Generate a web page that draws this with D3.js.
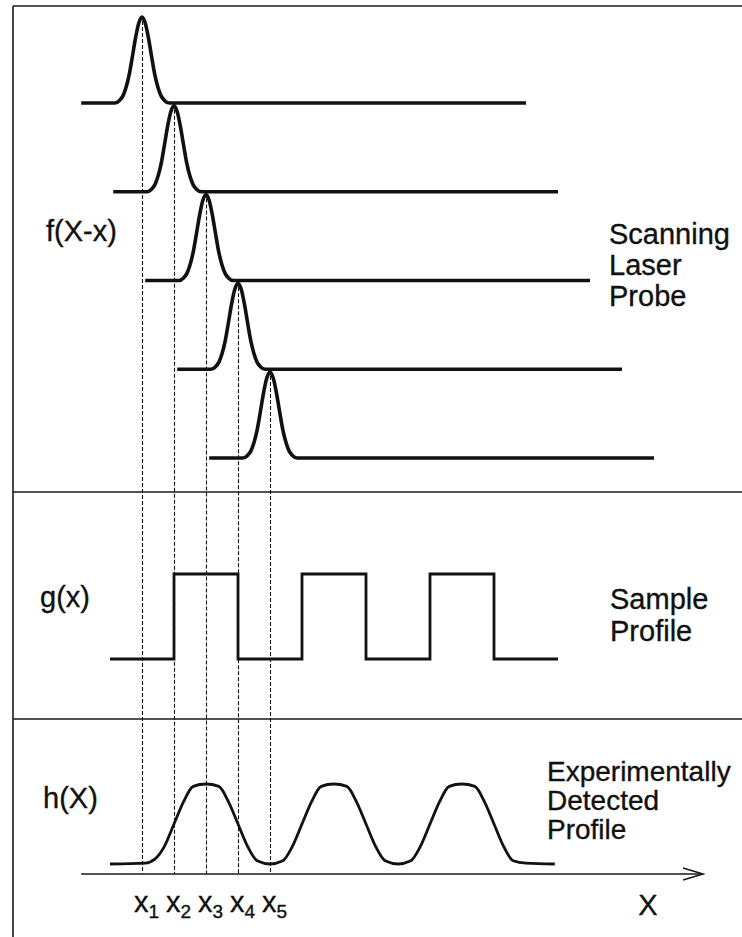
<!DOCTYPE html>
<html>
<head>
<meta charset="utf-8">
<script src="https://cdn.jsdelivr.net/npm/d3@7"></script>
<style>
  html, body { margin: 0; padding: 0; background: #fff; }
  text { font-family: "Liberation Sans", Arial, sans-serif; fill: #111; stroke: #111; stroke-width: 0.35px; }
</style>
</head>
<body>
<div id="chartCtn"></div>
<script>
// scan positions x1..x5 (in sample units)
const probePositions = [1, 2, 3, 4, 5];
const probeLabels = ["1", "2", "3", "4", "5"];
// shape of the laser probe around its centre: [offset, relative height]
const probeShape = [
  [-1.9, 0], [-0.85, 0], [-0.7, 0.03], [-0.6, 0.08], [-0.5, 0.18], [-0.4, 0.33],
  [-0.3, 0.54], [-0.2, 0.76], [-0.1, 0.93], [0, 1], [0.1, 0.93], [0.2, 0.76],
  [0.3, 0.54], [0.4, 0.33], [0.5, 0.18], [0.6, 0.08], [0.7, 0.03], [0.85, 0], [12, 0]
];
// sample profile g(x): [x, level] steps
const sampleSteps = [[0, 0], [2, 1], [4, 0], [6, 1], [8, 0], [10, 1], [12, 0], [14, 0]];
// detected profile h(X): [X, level]
const detected = [
  [0, 0], [1.1, 0.01], [1.4, 0.06], [1.7, 0.22], [2, 0.5], [2.3, 0.78], [2.6, 0.97], [3, 1],
  [3.4, 0.97], [3.7, 0.78], [4, 0.5], [4.3, 0.22], [4.6, 0.04], [5, 0], [5.4, 0.04],
  [5.7, 0.22], [6, 0.5], [6.3, 0.78], [6.6, 0.97], [7, 1], [7.4, 0.97], [7.7, 0.78],
  [8, 0.5], [8.3, 0.22], [8.6, 0.04], [9, 0], [9.4, 0.04], [9.7, 0.22], [10, 0.5],
  [10.3, 0.78], [10.6, 0.97], [11, 1], [11.4, 0.97], [11.7, 0.78], [12, 0.5],
  [12.3, 0.22], [12.6, 0.04], [13, 0.01], [13.9, 0]
];
const panelLabels = ["f(X-x)", "g(x)", "h(X)"];
const panelTitles = [["Scanning", "Laser", "Probe"], ["Sample", "Profile"], ["Experimentally", "Detected", "Profile"]];

const width = 742, height = 937;

const svg = d3.select("#chartCtn")
  .append("svg")
  .attr("width", width)
  .attr("height", height)
  .attr("viewBox", [0, 0, width, height]);

const xScale = d3.scaleLinear().domain([0, 14]).range([110, 558]);
const rowScale = d3.scaleLinear().domain([0, 4]).range([103, 458]);
const pulseAmp = 86;
const yG = d3.scaleLinear().domain([0, 1]).range([659, 574]);
const yH = d3.scaleLinear().domain([0, 1]).range([864, 784]);
const axisY = 874;

// frame and dividers
const frame = svg.append("g").attr("stroke", "#1a1a1a").attr("stroke-width", 1.6).attr("fill", "none");
frame.append("line").attr("x1", 13).attr("y1", 6).attr("x2", 13).attr("y2", height);
[6, 492, 719].forEach(y => {
  frame.append("line").attr("x1", 13).attr("y1", y).attr("x2", width).attr("y2", y);
});

// dashed guides from each probe apex down to the X axis
svg.append("g")
  .selectAll("line")
  .data(probePositions)
  .enter()
  .append("line")
  .attr("x1", d => Math.round(xScale(d)) + 0.5)
  .attr("x2", d => Math.round(xScale(d)) + 0.5)
  .attr("y1", (d, i) => rowScale(i) - pulseAmp + 4)
  .attr("y2", axisY)
  .attr("stroke", "#111")
  .attr("stroke-width", 1.1)
  .attr("stroke-dasharray", "4,2");

// probe pulses
const pulseLine = d3.line().curve(d3.curveMonotoneX);
svg.append("g")
  .selectAll("path")
  .data(probePositions)
  .enter()
  .append("path")
  .attr("d", (d, i) => pulseLine(probeShape.map(p => [xScale(d + p[0]), rowScale(i) - pulseAmp * p[1]])))
  .attr("fill", "none")
  .attr("stroke", "#111")
  .attr("stroke-width", 3.6)
  .attr("stroke-linejoin", "round");

// sample profile
svg.append("path")
  .attr("d", d3.line().x(d => xScale(d[0])).y(d => yG(d[1])).curve(d3.curveStepAfter)(sampleSteps))
  .attr("fill", "none")
  .attr("stroke", "#111")
  .attr("stroke-width", 2.8);

// detected profile
svg.append("path")
  .attr("d", d3.line().x(d => xScale(d[0])).y(d => yH(d[1])).curve(d3.curveMonotoneX)(detected))
  .attr("fill", "none")
  .attr("stroke", "#111")
  .attr("stroke-width", 2.8);

// X axis with open arrow
const axis = svg.append("g").attr("stroke", "#1a1a1a").attr("stroke-width", 1.6).attr("fill", "none");
axis.append("line").attr("x1", xScale(-0.9)).attr("y1", axisY).attr("x2", 703).attr("y2", axisY);
axis.append("path").attr("d", `M683,${axisY - 6}L703,${axisY}L683,${axisY + 6}`);

// x1..x5 labels
const xl = svg.append("g")
  .selectAll("text")
  .data(probePositions)
  .enter()
  .append("text")
  .attr("x", d => xScale(d) - 8)
  .attr("y", 912)
  .style("font-size", "29px");
xl.append("tspan").text("x");
xl.append("tspan")
  .attr("dy", 6)
  .style("font-size", "19px")
  .text((d, i) => probeLabels[i]);

svg.append("text")
  .attr("x", 648)
  .attr("y", 915)
  .attr("text-anchor", "middle")
  .style("font-size", "29px")
  .text("X");

// panel function labels
const labelPos = [[46, 241], [40, 607], [43, 808]];
svg.append("g")
  .selectAll("text")
  .data(panelLabels)
  .enter()
  .append("text")
  .attr("x", (d, i) => labelPos[i][0])
  .attr("y", (d, i) => labelPos[i][1])
  .style("font-size", "29px")
  .text(d => d);

// panel titles on the right
const titlePos = [[609, 244, 31], [610, 609, 32], [547, 781, 29]];
panelTitles.forEach((lines, i) => {
  svg.append("text")
    .attr("x", titlePos[i][0])
    .attr("y", titlePos[i][1])
    .style("font-size", i === 2 ? "28px" : "29px")
    .selectAll("tspan")
    .data(lines)
    .enter()
    .append("tspan")
    .attr("x", titlePos[i][0])
    .attr("dy", (d, j) => j === 0 ? 0 : titlePos[i][2])
    .text(d => d);
});
</script>
</body>
</html>
